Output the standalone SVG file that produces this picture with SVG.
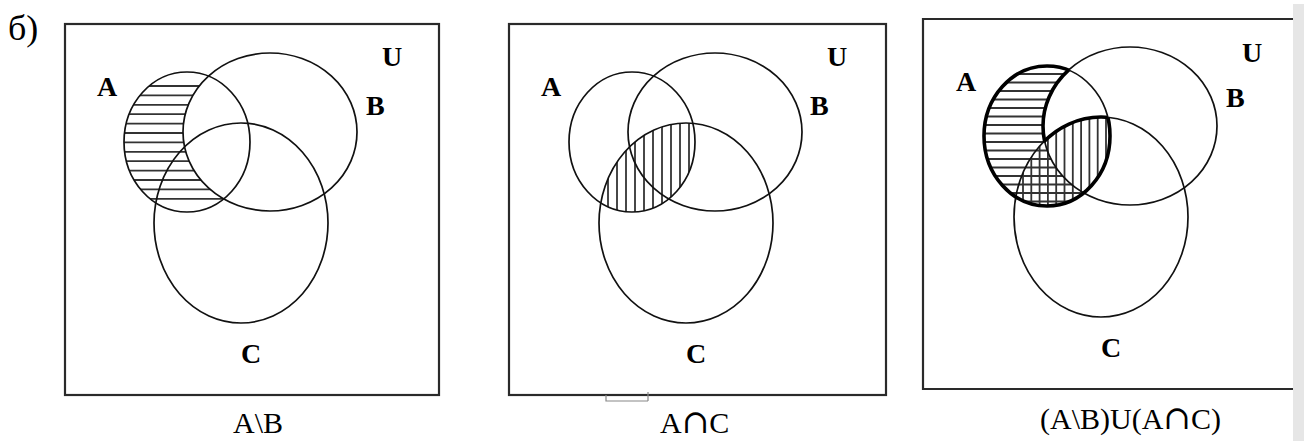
<svg xmlns="http://www.w3.org/2000/svg" width="1304" height="441" viewBox="0 0 1304 441">
<style>
.bg{fill:#fff}
.frame{fill:none;stroke:#2a2a2a;stroke-width:2.2}
.set{fill:none;stroke:#111;stroke-width:1.7}
.bold{fill:none;stroke:#000;stroke-width:3.6}
.hatch{stroke:#333;stroke-width:1.8}
.lbl{font-family:"Liberation Serif","Times New Roman",serif;font-weight:bold;font-size:28px;fill:#000}
.cap{font-family:"Liberation Serif","Times New Roman","DejaVu Serif",serif;font-size:30px;fill:#000}
.cup{font-family:"DejaVu Serif",serif;font-size:33px}
</style>
<defs>
<ellipse id="eA" cx="187" cy="142" rx="63" ry="70"/>
<ellipse id="eB" cx="270" cy="132" rx="87" ry="79"/>
<ellipse id="eC" cx="241" cy="223" rx="87" ry="100"/>
<clipPath id="clipA"><use href="#eA"/></clipPath>
<clipPath id="clipB"><use href="#eB"/></clipPath>
<clipPath id="clipC"><use href="#eC"/></clipPath>
<mask id="notB" maskUnits="userSpaceOnUse" x="-100" y="-100" width="700" height="700">
<rect x="-100" y="-100" width="700" height="700" fill="#fff"/>
<use href="#eB" fill="#000"/>
</mask>
<mask id="notC" maskUnits="userSpaceOnUse" x="-100" y="-100" width="700" height="700">
<rect x="-100" y="-100" width="700" height="700" fill="#fff"/>
<use href="#eC" fill="#000"/>
</mask>
<mask id="notBminusC" maskUnits="userSpaceOnUse" x="-100" y="-100" width="700" height="700">
<rect x="-100" y="-100" width="700" height="700" fill="#fff"/>
<use href="#eB" fill="#000"/>
<use href="#eC" fill="#fff"/>
</mask>
</defs>
<rect class="bg" x="0" y="0" width="1304" height="441"/>
<text x="8" y="40" font-family="'Liberation Serif','Times New Roman',serif" font-size="36">б)</text>

<!-- Panel 1: A\B -->
<g id="panel1">
<rect class="frame" x="65" y="24" width="374" height="371"/>
<g id="p1-hatch" clip-path="url(#clipA)">
<g mask="url(#notB)" class="hatch">
<line x1="110" y1="86" x2="270" y2="86"/>
<line x1="110" y1="95.4" x2="270" y2="95.4"/>
<line x1="110" y1="104.8" x2="270" y2="104.8"/>
<line x1="110" y1="114.2" x2="270" y2="114.2"/>
<line x1="110" y1="123.6" x2="270" y2="123.6"/>
<line x1="110" y1="133" x2="270" y2="133"/>
<line x1="110" y1="142.4" x2="270" y2="142.4"/>
<line x1="110" y1="151.8" x2="270" y2="151.8"/>
<line x1="110" y1="161.2" x2="270" y2="161.2"/>
<line x1="110" y1="170.6" x2="270" y2="170.6"/>
<line x1="110" y1="180" x2="270" y2="180"/>
<line x1="110" y1="189.4" x2="270" y2="189.4"/>
<line x1="110" y1="198.8" x2="270" y2="198.8"/>
</g>
</g>
<g id="p1-A"><use href="#eA" class="set"/><text class="lbl" x="97" y="96">A</text></g>
<g id="p1-B"><use href="#eB" class="set"/><text class="lbl" x="366" y="115">B</text></g>
<g id="p1-C"><use href="#eC" class="set"/><text class="lbl" x="241" y="363">C</text></g>
<text id="p1-U" class="lbl" x="382" y="66">U</text>
<text class="cap" x="233" y="433">A\B</text>
</g>

<!-- Panel 2: A∩C -->
<g id="panel2">
<rect class="frame" x="509" y="24" width="377" height="371"/>
<path d="M606 395 V401 H648 M648 392 V401" fill="none" stroke="#888" stroke-width="1.2"/>
<g transform="translate(445,0)">
<g id="p2-hatch" clip-path="url(#clipA)">
<g clip-path="url(#clipC)" class="hatch">
<line x1="163" y1="60" x2="163" y2="220"/>
<line x1="172" y1="60" x2="172" y2="220"/>
<line x1="181" y1="60" x2="181" y2="220"/>
<line x1="190" y1="60" x2="190" y2="220"/>
<line x1="199" y1="60" x2="199" y2="220"/>
<line x1="208" y1="60" x2="208" y2="220"/>
<line x1="217" y1="60" x2="217" y2="220"/>
<line x1="226" y1="60" x2="226" y2="220"/>
<line x1="235" y1="60" x2="235" y2="220"/>
<line x1="244" y1="60" x2="244" y2="220"/>
</g>
</g>
<g id="p2-A"><use href="#eA" class="set"/></g>
<g id="p2-B"><use href="#eB" class="set"/></g>
<g id="p2-C"><use href="#eC" class="set"/></g>
</g>
<text class="lbl" x="541" y="96">A</text>
<text class="lbl" x="810" y="115">B</text>
<text class="lbl" x="686" y="363">C</text>
<text id="p2-U" class="lbl" x="827" y="66">U</text>
<text class="cap" x="660" y="433">A<tspan class="cup">∩</tspan>C</text>
</g>

<!-- Panel 3: (A\B)U(A∩C) -->
<g id="panel3">
<path class="frame" d="M1293 19 H923 V389 H1293"/>
<g transform="translate(860,-6)">
<g id="p3-hatch-h" clip-path="url(#clipA)">
<g mask="url(#notB)" class="hatch">
<line x1="110" y1="80" x2="270" y2="80"/>
<line x1="110" y1="88.5" x2="270" y2="88.5"/>
<line x1="110" y1="97" x2="270" y2="97"/>
<line x1="110" y1="105.5" x2="270" y2="105.5"/>
<line x1="110" y1="114" x2="270" y2="114"/>
<line x1="110" y1="122.5" x2="270" y2="122.5"/>
<line x1="110" y1="131" x2="270" y2="131"/>
<line x1="110" y1="139.5" x2="270" y2="139.5"/>
<line x1="110" y1="148" x2="270" y2="148"/>
<line x1="110" y1="156.5" x2="270" y2="156.5"/>
<line x1="110" y1="165" x2="270" y2="165"/>
<line x1="110" y1="173.5" x2="270" y2="173.5"/>
<line x1="110" y1="182" x2="270" y2="182"/>
<line x1="110" y1="190.5" x2="270" y2="190.5"/>
<line x1="110" y1="199" x2="270" y2="199"/>
<line x1="110" y1="207.5" x2="270" y2="207.5"/>
</g>
</g>
<g id="p3-hatch-v" clip-path="url(#clipA)">
<g clip-path="url(#clipC)" class="hatch">
<line x1="163" y1="60" x2="163" y2="220"/>
<line x1="171.3" y1="60" x2="171.3" y2="220"/>
<line x1="179.6" y1="60" x2="179.6" y2="220"/>
<line x1="187.9" y1="60" x2="187.9" y2="220"/>
<line x1="196.2" y1="60" x2="196.2" y2="220"/>
<line x1="204.5" y1="60" x2="204.5" y2="220"/>
<line x1="212.8" y1="60" x2="212.8" y2="220"/>
<line x1="221.1" y1="60" x2="221.1" y2="220"/>
<line x1="229.4" y1="60" x2="229.4" y2="220"/>
<line x1="237.7" y1="60" x2="237.7" y2="220"/>
<line x1="246" y1="60" x2="246" y2="220"/>
</g>
</g>
<g id="p3-A"><use href="#eA" class="set"/></g>
<g id="p3-B"><use href="#eB" class="set"/></g>
<g id="p3-C"><use href="#eC" class="set"/></g>
<g id="p3-outline">
<use href="#eA" class="bold" mask="url(#notBminusC)"/>
<g clip-path="url(#clipA)"><use href="#eB" class="bold" mask="url(#notC)"/></g>
<g clip-path="url(#clipA)"><g clip-path="url(#clipB)"><use href="#eC" class="bold"/></g></g>
</g>
</g>
<text class="lbl" x="956" y="91">A</text>
<text class="lbl" x="1226" y="107">B</text>
<text class="lbl" x="1101" y="357">C</text>
<text id="p3-U" class="lbl" x="1242" y="62">U</text>
<text class="cap" x="1040" y="429">(A\B)U(A<tspan class="cup">∩</tspan>C)</text>
</g>
<rect x="1293" y="4" width="11" height="437" fill="#e6e6e6"/>
</svg>
